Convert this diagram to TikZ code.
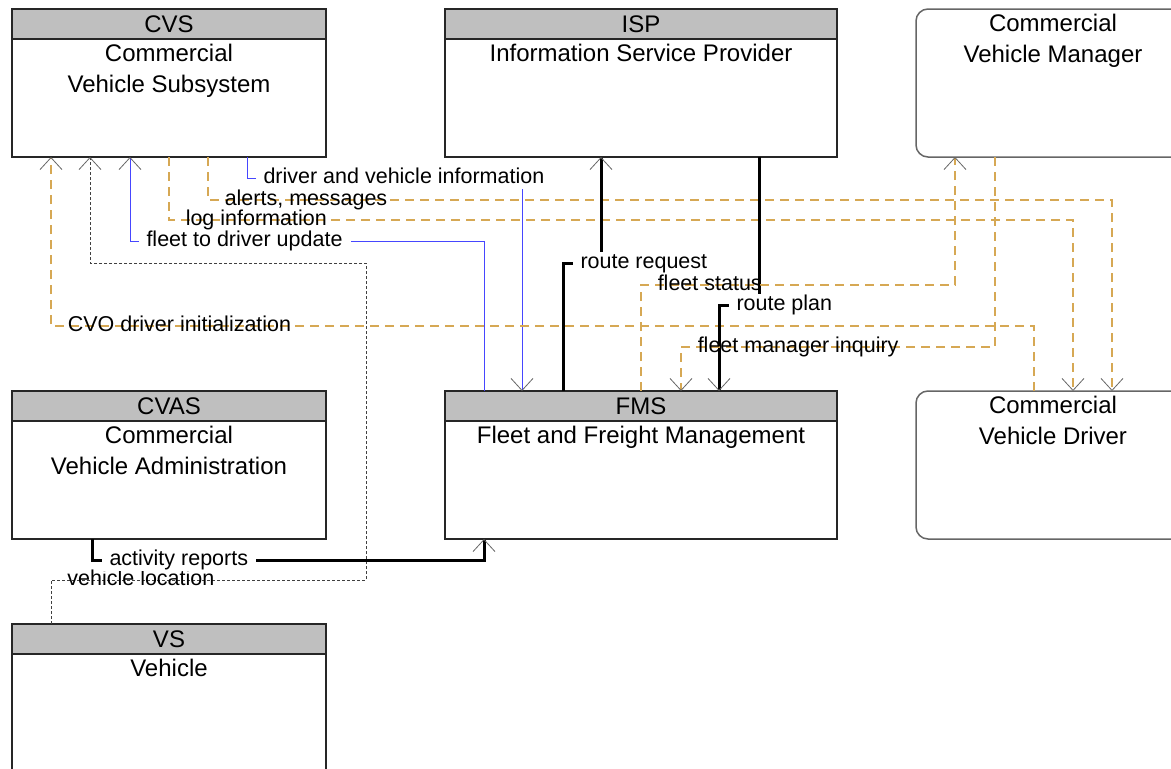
\documentclass[tikz,border=0pt]{standalone}
\usepackage{fontspec}
\setmainfont{Liberation Sans}
\usepackage{tikz}
\usetikzlibrary{arrows.meta, positioning}
\definecolor{flowtan}{RGB}{214,168,84}
\definecolor{flowblue}{RGB}{70,70,255}
\tikzset{
    header/.style={rectangle, draw=black!85, fill=black!25, line width=1.5pt, minimum height=30pt, minimum width=314pt, inner sep=0pt, outer sep=0pt, anchor=north west, font=\fontsize{24}{28}\selectfont},
    body/.style={rectangle, draw=black!85, line width=1.5pt, minimum height=118pt, minimum width=314pt, inner sep=0pt, outer sep=0pt},
    terminator/.style={rectangle, rounded corners=12pt, draw=black!60, line width=1.5pt, minimum height=148pt, minimum width=274pt, inner sep=0pt, outer sep=0pt},
    boxtext/.style={anchor=north, align=center, inner sep=5pt, font=\fontsize{24}{31}\selectfont},
    flowlabel/.style={anchor=west, xshift=8pt, inner xsep=8pt, inner ysep=1pt, text height=16pt, text depth=4.5pt, font=\fontsize{21.5}{24}\selectfont},
    masked/.style={fill=white},
    arrow/.style={-{Straight Barb[length=12pt, width=22pt, line width=0.8pt, color=black!60]}},
    blueflow/.style={arrow, draw=flowblue, line width=1pt},
    tanflow/.style={arrow, draw=flowtan, line width=1.5pt, dash pattern=on 9pt off 6pt},
    blackflow/.style={arrow, draw=black, line width=3pt},
    dotflow/.style={arrow, draw=black!75, line width=0.8pt, dash pattern=on 3pt off 2pt},
}

\begin{document}
\begin{tikzpicture}[x=1pt, y=-1pt]
        \clip (0,0) rectangle (1171,769);

        % Top row
        \node[header] (cvs) at (12,9) {CVS};
        \node[body, below=0pt of cvs, label={[boxtext]north:{Commercial\\Vehicle Subsystem}}] (cvsb) {};
        \node[header, minimum width=392pt, right=119pt of cvs] (isp) {ISP};
        \node[body, minimum width=392pt, below=0pt of isp, label={[boxtext]north:{Information Service Provider}}] (ispb) {};
        \node[terminator, right=79pt of isp.north east, anchor=north west, label={[boxtext]north:{Commercial\\Vehicle Manager}}] (cvm) {};

        % Middle row
        \node[header, below=234pt of cvsb] (cvas) {CVAS};
        \node[body, below=0pt of cvas, label={[boxtext]north:{Commercial\\Vehicle Administration}}] (cvasb) {};
        \node[header, minimum width=392pt, below=234pt of ispb] (fms) {FMS};
        \node[body, minimum width=392pt, below=0pt of fms, label={[boxtext]north:{Fleet and Freight Management}}] (fmsb) {};
        \node[terminator, below=234pt of cvm, label={[boxtext]north:{Commercial\\Vehicle Driver}}] (cvd) {};

        % Bottom row
        \node[header, below=85pt of cvasb] (vs) {VS};
        \node[body, below=0pt of vs, label={[boxtext]north:{Vehicle}}] (vsb) {};

        % Flows
        \draw[blueflow] (cvsb.south -| 247,0) -- (247,178) node[flowlabel, masked] {driver and vehicle information} -| (fms.north -| 522,0);
        \draw[tanflow] (cvsb.south -| 208,0) -- (208,200) node[flowlabel] {alerts, messages} -| (cvd.north -| 1112,0);
        \draw[tanflow] (cvsb.south -| 169,0) -- (169,220) node[flowlabel] {log information} -| (cvd.north -| 1073,0);
        \draw[blueflow] (fms.north -| 484,0) |- (130,241) node[flowlabel, masked] {fleet to driver update} -- (cvsb.south -| 130,0);
        \draw[tanflow] (cvd.north -| 1034,0) |- (51,326) node[flowlabel] {CVO driver initialization} -- (cvsb.south -| 51,0);
        \draw[dotflow] (vs.north -| 51,0) -- (51,580) node[flowlabel] {vehicle location} -| (366,263) -| (cvsb.south -| 90,0);
        \draw[blackflow] (cvasb.south -| 92,0) -- (92,560) node[flowlabel, masked] {activity reports} -| (fmsb.south -| 484,0);
        \draw[blackflow] (fms.north -| 563,0) -- (563,263) node[flowlabel, masked] {route request} -| (ispb.south -| 601,0);
        \draw[blackflow] (ispb.south -| 759,0) |- (719,305) node[flowlabel, masked] {route plan} -- (fms.north -| 719,0);
        \draw[tanflow] (fms.north -| 641,0) -- (641,285) node[flowlabel] {fleet status} -| (cvm.south -| 955,0);
        \draw[tanflow] (cvm.south -| 995,0) |- (681,347) node[flowlabel] {fleet manager inquiry} -- (fms.north -| 681,0);
    \end{tikzpicture}
\end{document}
